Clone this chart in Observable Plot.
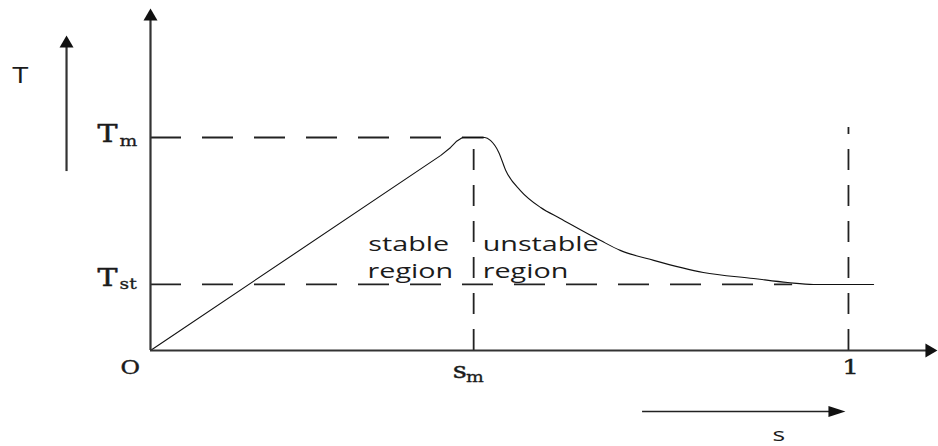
<!DOCTYPE html>
<html>
<head>
<meta charset="utf-8">
<script src="https://cdn.jsdelivr.net/npm/d3@7"></script>
<script src="https://cdn.jsdelivr.net/npm/@observablehq/plot@0.6"></script>
<style>
  html, body { margin: 0; padding: 0; background: #fff; }
  #chart svg { display: block; }
</style>
</head>
<body>
<div id="chart"></div>
<script>
// Torque–slip characteristic, relative units (Tm = 1, s = 1 at standstill)
const curveS = [0, 0.416, 0.430, 0.438, 0.447, 0.479, 0.487, 0.499, 0.509, 0.530, 0.559, 0.587, 0.645, 0.673, 0.721, 0.792, 0.864, 0.913, 0.950, 1.036];
const curveT = [0, 0.916, 0.953, 0.981, 1.000, 1.000, 0.986, 0.930, 0.845, 0.751, 0.671, 0.620, 0.516, 0.470, 0.423, 0.366, 0.338, 0.319, 0.310, 0.310];

const sM = 0.463;      // slip at maximum torque
const tM = 1.0;        // maximum torque
const tSt = 0.31;      // starting torque
const sOne = 1.0;      // standstill
const tLevels = [tM, tSt];
const tLevelEnds = [0.478, 0.92];
const sLevels = [sM, sOne];
const sLevelTops = [tM, 1.047];

const sDomain = [0, 1.129];
const tDomain = [0, 1.643];

const curve = curveS.map((s, i) => ({s, t: curveT[i]}));
const rising = curve.filter(d => d.s <= 0.447);   // stable branch
const falling = curve.filter(d => d.s >= 0.447);  // unstable branch
const hLines = tLevels.map((t, i) => ({t, end: tLevelEnds[i]}));
const vLines = sLevels.map((s, i) => ({s, top: sLevelTops[i]}));

// filled arrowheads (tip at the anchor point, pointing up before rotation)
const head = (w, h) => ({draw(ctx) { ctx.moveTo(0, 0); ctx.lineTo(-w / 2, h); ctx.lineTo(w / 2, h); ctx.closePath(); }});
const axisHead = head(14, 12);
const longHead = head(11, 17);

const ink = "#1b1b1b";
const serif = "DejaVu Serif";
const sans = "Open Sans";

const plot = Plot.plot({
  width: 938,
  height: 446,
  marginLeft: 150,
  marginRight: 0,
  marginTop: 0,
  marginBottom: 96,
  x: {domain: sDomain, axis: null},
  y: {domain: tDomain, axis: null},
  style: {background: "#fff", overflow: "visible"},
  marks: [
    // dashed guide lines
    Plot.ruleY(hLines, {y: "t", x1: 0, x2: "end", stroke: "#222", strokeWidth: 1.8, strokeDasharray: "31,21"}),
    Plot.ruleX(vLines, {x: "s", y1: 0, y2: "top", stroke: "#222", strokeWidth: 1.8, strokeDasharray: "21,15"}),
    // torque curve
    Plot.line(rising, {x: "s", y: "t", stroke: "#111", strokeWidth: 1.1, curve: "linear"}),
    Plot.line(falling, {x: "s", y: "t", stroke: "#111", strokeWidth: 1.1, curve: "monotone-x"}),
    // axes with arrows
    Plot.ruleX([0], {y1: 0, y2: 1.57, stroke: "#333", strokeWidth: 2.2}),
    Plot.ruleY([0], {x1: 0, x2: 1.115, stroke: "#333", strokeWidth: 2.2}),
    Plot.dot([{s: 0, t: 1.606}], {x: "s", y: "t", symbol: axisHead, fill: "#111", stroke: "none"}),
    Plot.dot([{s: 1.1275, t: 0}], {x: "s", y: "t", symbol: axisHead, rotate: 90, fill: "#111", stroke: "none"}),
    // side arrow for T
    Plot.ruleX([-0.1203], {y1: 0.840, y2: 1.45, stroke: "#333", strokeWidth: 2.2}),
    Plot.dot([{s: -0.1203, t: 1.479}], {x: "s", y: "t", symbol: axisHead, fill: "#111", stroke: "none"}),
    // arrow for s
    Plot.ruleY([-0.2864], {x1: 0.705, x2: 0.975, stroke: "#222", strokeWidth: 1.6}),
    Plot.dot([{s: 0.9957, t: -0.2864}], {x: "s", y: "t", symbol: longHead, rotate: 90, fill: "#111", stroke: "none"}),
    // labels (sans)
    Plot.text(["T"], {x: -0.198, y: 1.254, text: d => d, textAnchor: "start", lineAnchor: "bottom", fontFamily: sans, fontSize: 21, fill: ink, className: "sx"}),
    Plot.text(["stable"], {x: 0.312, y: 0.465, text: d => d, textAnchor: "start", lineAnchor: "bottom", fontFamily: sans, fontSize: 20.5, fill: ink, className: "sx"}),
    Plot.text(["region"], {x: 0.311, y: 0.338, text: d => d, textAnchor: "start", lineAnchor: "bottom", fontFamily: sans, fontSize: 20.5, fill: ink, className: "sx"}),
    Plot.text(["unstable"], {x: 0.476, y: 0.465, text: d => d, textAnchor: "start", lineAnchor: "bottom", fontFamily: sans, fontSize: 20.5, fill: ink, className: "sx"}),
    Plot.text(["region"], {x: 0.476, y: 0.338, text: d => d, textAnchor: "start", lineAnchor: "bottom", fontFamily: sans, fontSize: 20.5, fill: ink, className: "sx"}),
    Plot.text(["s"], {x: 0.891, y: -0.425, text: d => d, textAnchor: "start", lineAnchor: "bottom", fontFamily: sans, fontSize: 19, fill: ink, className: "sx"}),
    // labels (serif, math-like)
    Plot.text(["T"], {x: -0.076, y: 0.977, text: d => d, textAnchor: "start", lineAnchor: "bottom", fontFamily: serif, fontSize: 24, fill: ink, stroke: ink, strokeWidth: 0.5, className: "rx"}),
    Plot.text(["m"], {x: -0.0444, y: 0.962, text: d => d, textAnchor: "start", lineAnchor: "bottom", fontFamily: serif, fontSize: 15, fill: ink, stroke: ink, strokeWidth: 0.3, className: "rx"}),
    Plot.text(["T"], {x: -0.076, y: 0.305, text: d => d, textAnchor: "start", lineAnchor: "bottom", fontFamily: serif, fontSize: 24, fill: ink, stroke: ink, strokeWidth: 0.5, className: "rx"}),
    Plot.text(["st"], {x: -0.0444, y: 0.291, text: d => d, textAnchor: "start", lineAnchor: "bottom", fontFamily: serif, fontSize: 15, fill: ink, stroke: ink, strokeWidth: 0.3, className: "rx"}),
    Plot.text(["O"], {x: -0.043, y: -0.108, text: d => d, textAnchor: "start", lineAnchor: "bottom", fontFamily: serif, fontSize: 19, fill: ink, stroke: ink, strokeWidth: 0.4, className: "rx"}),
    Plot.text(["s"], {x: 0.433, y: -0.127, text: d => d, textAnchor: "start", lineAnchor: "bottom", fontFamily: serif, fontSize: 22, fill: ink, stroke: ink, strokeWidth: 0.4, className: "rx"}),
    Plot.text(["m"], {x: 0.452, y: -0.150, text: d => d, textAnchor: "start", lineAnchor: "bottom", fontFamily: serif, fontSize: 15, fill: ink, stroke: ink, strokeWidth: 0.3, className: "rx"}),
    Plot.text(["1"], {x: 0.991, y: -0.108, text: d => d, textAnchor: "start", lineAnchor: "bottom", fontFamily: serif, fontSize: 21, fill: ink, stroke: ink, strokeWidth: 0.4, className: "rx"})
  ]
});

document.getElementById("chart").appendChild(plot);

// the reference is horizontally stretched: widen glyphs accordingly
function stretch(selector, k) {
  d3.select(plot).selectAll(selector).each(function () {
    const len = this.getComputedTextLength();
    this.setAttribute("textLength", (len * k).toFixed(1));
    this.setAttribute("lengthAdjust", "spacingAndGlyphs");
  });
}
stretch(".sx text", 1.4);
stretch(".rx text", 1.25);
</script>
</body>
</html>
